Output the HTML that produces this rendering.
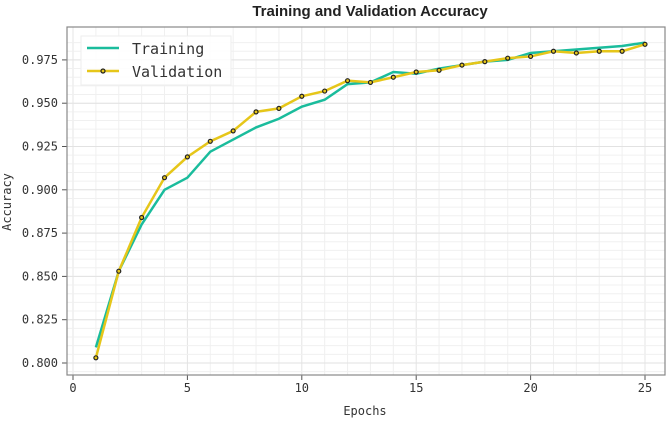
<!DOCTYPE html>
<html><head><meta charset="utf-8"><style>
body{margin:0;background:#fff}
svg text{font-family:"DejaVu Sans Mono","Liberation Mono",monospace;fill:#333}
</style></head><body>
<svg id="c" width="669" height="420" xmlns="http://www.w3.org/2000/svg">
<text x="370" y="16" text-anchor="middle" style="font-family:'Liberation Sans',sans-serif;font-weight:bold;font-size:15px;fill:#222">Training and Validation Accuracy</text>
<g id="grid"></g><g id="ticks"></g><g id="series"></g>
<rect x="67" y="27" width="598" height="348" fill="none" stroke="#888" stroke-width="1.2"/>
<text x="365" y="415" text-anchor="middle" font-size="12">Epochs</text>
<text transform="translate(11,202) rotate(-90)" text-anchor="middle" font-size="12">Accuracy</text>
<g>
<rect x="81" y="36" width="150" height="49" fill="#fff" fill-opacity="0.85" stroke="#eee"/>
<line x1="87" y1="48" x2="119" y2="48" stroke="#1abc9c" stroke-width="2.5"/>
<text x="132" y="54" font-size="15">Training</text>
<line x1="87" y1="71" x2="119" y2="71" stroke="#e6c619" stroke-width="2.5"/>
<circle cx="103" cy="71" r="2" fill="#e6c619" stroke="#222" stroke-width="1.2"/>
<text x="132" y="77" font-size="15">Validation</text>
</g>
</svg>
<script>
const epochs=[1,2,3,4,5,6,7,8,9,10,11,12,13,14,15,16,17,18,19,20,21,22,23,24,25];
const training=[0.809,0.853,0.880,0.900,0.907,0.922,0.929,0.936,0.941,0.948,0.952,0.961,0.962,0.968,0.967,0.970,0.972,0.974,0.975,0.979,0.980,0.981,0.982,0.983,0.985];
const validation=[0.803,0.853,0.884,0.907,0.919,0.928,0.934,0.945,0.947,0.954,0.957,0.963,0.962,0.965,0.968,0.969,0.972,0.974,0.976,0.977,0.980,0.979,0.980,0.980,0.984];
const xTicks=[0,5,10,15,20,25];
const yTicks=[0.800,0.825,0.850,0.875,0.900,0.925,0.950,0.975];
const NS="http://www.w3.org/2000/svg";
const X=v=>73+v*22.88;
const Y=v=>363-(v-0.8)/0.025*43.3;
function mk(t,a,p){const e=document.createElementNS(NS,t);for(const k in a)e.setAttribute(k,a[k]);p.appendChild(e);return e;}
const g=document.getElementById('grid'),tk=document.getElementById('ticks'),s=document.getElementById('series');
for(let v=0;v<=25.9;v+=1){const l=mk('line',{x1:X(v),x2:X(v),y1:27,y2:375,stroke:v%5==0?'#e4e4e4':'#f0f0f0','stroke-width':1},g);

}
for(let v=0.790;v<=0.9885;v+=0.005){const y=Y(v);if(y<27||y>375)continue;const l=mk('line',{x1:67,x2:665,y1:y,y2:y,stroke:'#f0f0f0','stroke-width':1},g);

}
yTicks.forEach(v=>{mk('line',{x1:67,x2:665,y1:Y(v),y2:Y(v),stroke:'#e2e2e2'},g);mk('line',{x1:62,x2:67,y1:Y(v),y2:Y(v),stroke:'#555'},tk);
const t=mk('text',{x:58,y:Y(v)+4,'text-anchor':'end','font-size':12},tk);t.textContent=v.toFixed(3);

});
xTicks.forEach(v=>{mk('line',{x1:X(v),x2:X(v),y1:375,y2:380,stroke:'#555'},tk);
const t=mk('text',{x:X(v),y:392,'text-anchor':'middle','font-size':12},tk);t.textContent=v;

});
const pts=a=>a.map((v,i)=>X(epochs[i])+','+Y(v)).join(' ');
const tl=mk('polyline',{points:pts(training),fill:'none',stroke:'#1abc9c','stroke-width':2.5},s);


const vl=mk('polyline',{points:pts(validation),fill:'none',stroke:'#e6c619','stroke-width':2.5},s);


validation.forEach((v,i)=>{const c=mk('circle',{cx:X(epochs[i]),cy:Y(v),r:2,fill:'#e6c619',stroke:'#222','stroke-width':1.2},s);

});
</script>
</body></html>
